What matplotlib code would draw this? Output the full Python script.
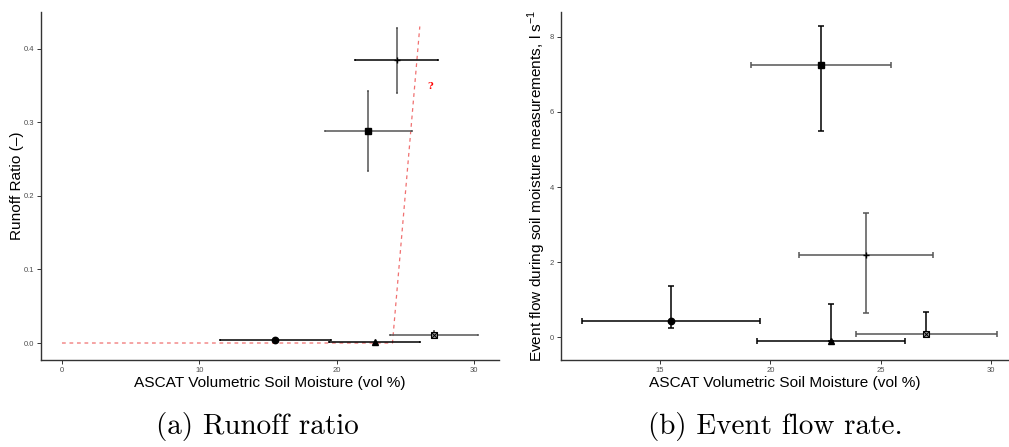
import matplotlib
matplotlib.use("Agg")
import matplotlib.pyplot as plt
import numpy as np

# ---- data ----
sm_mean = [15.5, 22.75, 22.3, 24.35, 27.05]
sm_lo = [11.47, 19.4, 19.12, 21.31, 23.88]
sm_hi = [19.55, 26.09, 25.48, 27.38, 30.25]
markers = ["o", "^", "s", "+", "boxx"]

runoff = [0.0036, 0.001, 0.2885, 0.384, 0.0113]
runoff_lo = [0.0036, 0.001, 0.234, 0.340, 0.007]
runoff_hi = [0.0036, 0.001, 0.342, 0.428, 0.016]

flow = [0.425, -0.098, 7.245, 2.19, 0.096]
flow_lo = [0.255, -0.098, 5.49, 0.64, 0.096]
flow_hi = [1.365, 0.886, 8.28, 3.30, 0.68]

thresh_x = [0, 24.05, 26.04]
thresh_y = [0, 0, 0.43]

xcol_a = ["#000000", "#000000", "#555555", "#000000", "#555555"]
ycol_a = ["#000000", "#000000", "#555555", "#555555", "#555555"]
xcol_b = ["#000000", "#000000", "#555555", "#555555", "#555555"]
ycol_b = ["#000000", "#000000", "#000000", "#555555", "#000000"]

plt.rcParams["font.family"] = ["Liberation Sans", "DejaVu Sans"]
plt.rcParams["mathtext.fontset"] = "custom"
plt.rcParams["mathtext.rm"] = "Liberation Sans"

fig = plt.figure(figsize=(10.09, 4.47), dpi=100)
axA = fig.add_axes([0.0406, 0.1946, 0.4539, 0.7786])
axB = fig.add_axes([0.556, 0.1946, 0.444, 0.7786])


def draw_points(ax, ys, ylo, yhi, xcols, ycols, cap):
    for i in range(len(sm_mean)):
        x = sm_mean[i]
        y = ys[i]
        ax.errorbar([x], [y], xerr=[[x - sm_lo[i]], [sm_hi[i] - x]], fmt="none",
                    ecolor=xcols[i], elinewidth=1.1, capsize=cap, capthick=1.1, zorder=2)
        ax.errorbar([x], [y], yerr=[[y - ylo[i]], [yhi[i] - y]], fmt="none",
                    ecolor=ycols[i], elinewidth=1.1, capsize=cap, capthick=1.1, zorder=2)
        m = markers[i]
        if m == "boxx":
            ax.plot([x], [y], marker="s", ms=4.5, mfc="#999999", mec="black", mew=0.8, ls="none", zorder=3)
            ax.plot([x], [y], marker="x", ms=4, mec="black", mew=0.7, ls="none", zorder=4)
        elif m == "+":
            ax.plot([x], [y], marker="+", ms=4, mec="black", mew=1.0, ls="none", zorder=3)
        elif m == "s":
            ax.plot([x], [y], marker="s", ms=4.6, color="black", ls="none", zorder=3)
        else:
            ax.plot([x], [y], marker=m, ms=4.6, color="black", ls="none", zorder=3)


def style(ax):
    for s in ["top", "right"]:
        ax.spines[s].set_visible(False)
    for s in ["left", "bottom"]:
        ax.spines[s].set_color("#333333")
        ax.spines[s].set_linewidth(1.0)
    ax.tick_params(axis="both", labelsize=5.5, labelcolor="#4d4d4d", color="#333333",
                   length=3, width=0.7, pad=2)


# panel (a)
draw_points(axA, runoff, runoff_lo, runoff_hi, xcol_a, ycol_a, 0.6)
axA.plot(thresh_x, thresh_y, ls=(0, (3, 3)), color="#f07070", lw=0.9, zorder=1)
axA.text(26.8, 0.349, "?", color="red", fontsize=7, fontweight="bold",
         family="DejaVu Serif", ha="center", va="center")
axA.set_xlim(-1.53, 31.8)
axA.set_ylim(-0.0231, 0.4497)
axA.set_xticks([0, 10, 20, 30])
axA.set_yticks([0.0, 0.1, 0.2, 0.3, 0.4])
axA.set_yticklabels(["0.0", "0.1", "0.2", "0.3", "0.4"])
axA.set_xlabel("ASCAT Volumetric Soil Moisture (vol %)", fontsize=11.1, labelpad=1.5)
axA.set_ylabel("Runoff Ratio (\u2013)", fontsize=11.1, labelpad=0)
style(axA)

# panel (b)
draw_points(axB, flow, flow_lo, flow_hi, xcol_b, ycol_b, 2.0)
axB.set_xlim(10.53, 30.8)
axB.set_ylim(-0.60, 8.66)
axB.set_xticks([15, 20, 25, 30])
axB.set_yticks([0, 2, 4, 6, 8])
axB.set_xlabel("ASCAT Volumetric Soil Moisture (vol %)", fontsize=11.1, labelpad=1.5)
axB.set_ylabel("Event flow during soil moisture measurements, l s$^{-1}$", fontsize=11.1, labelpad=1)
style(axB)

# captions
fig.text(0.2547, 0.045, "(a) Runoff ratio", fontsize=21, family="cmr10", ha="center", va="center")
fig.text(0.768, 0.045, "(b) Event flow rate.", fontsize=21, family="cmr10", ha="center", va="center")

fig.savefig("out.png", dpi=100)
